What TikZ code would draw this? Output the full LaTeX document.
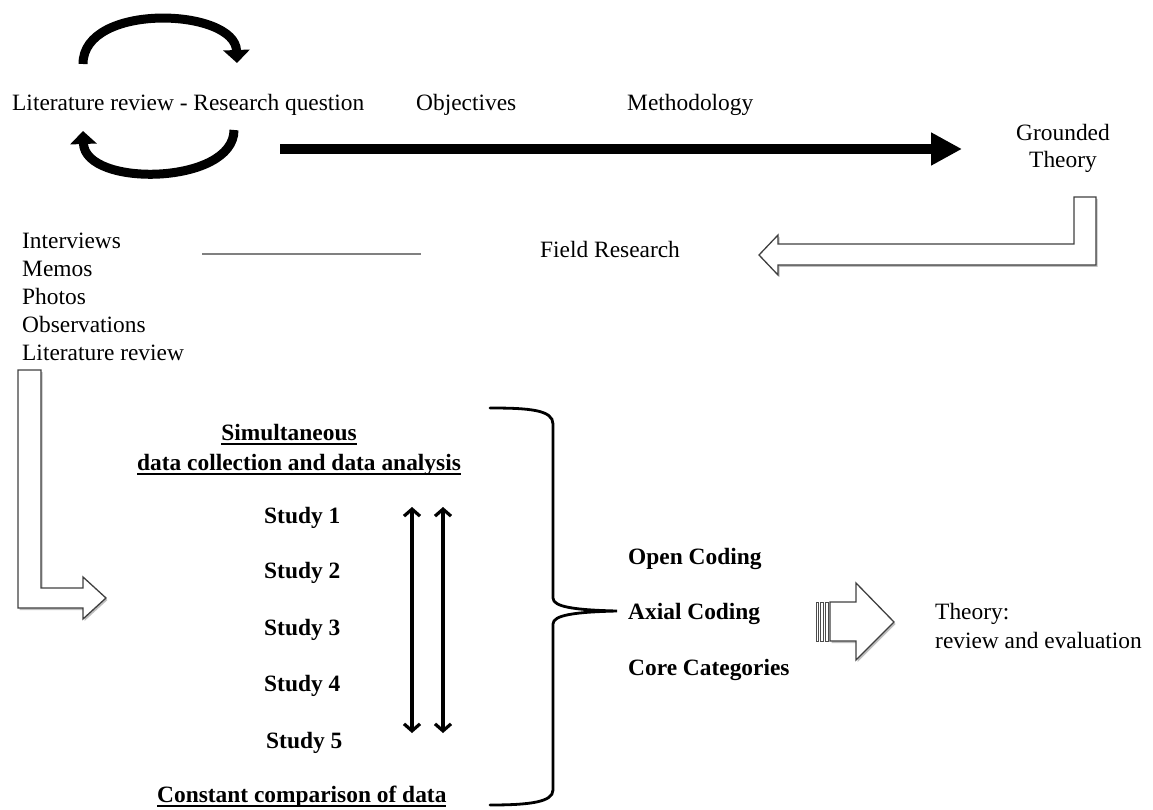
\documentclass[tikz,border=0pt]{standalone}
\usepackage{fontspec}
\setmainfont{Liberation Serif}
\usetikzlibrary{arrows.meta,shadows}
% underline set close to the baseline
\newcommand{\baseul}[1]{\setbox0\hbox{#1}\rlap{\rule[-4.6pt]{\wd0}{1.6pt}}\box0}
\begin{document}
\begin{tikzpicture}[x=1pt,y=-1pt,
  txt/.style={inner sep=0pt, font=\fontsize{23.4}{27.8}\selectfont},
  btxt/.style={inner sep=0pt, font=\fontsize{23.4}{27.8}\selectfont\bfseries},
  blockarrow/.style={draw=black!75, line width=1.3pt, fill=white, line join=miter,
    drop shadow={shadow xshift=1.5pt, shadow yshift=-2pt, opacity=0.25, fill=black}},
  cyclearrow/.style={line width=9pt, -{Triangle[length=13pt,width=26pt]}},
  barb/.tip={Straight Barb[length=7pt,width=16pt,line width=3.2pt]},
]
\useasboundingbox (0,0) rectangle (1153,810);

% --- top row ---
\node[txt, anchor=base west] (lit)  at (12,111)  {Literature review - Research question};
\node[txt, anchor=base west] (obj)  at (416,111) {Objectives};
\node[txt, anchor=base west] (meth) at (627,111) {Methodology};
\node[txt, anchor=base] (gt1) at (1063,141) {Grounded};
\node[txt, anchor=base] (gt2) at (1063,168) {Theory};

% loop between literature review and research question
\coordinate (loopTL) at (83,64);
\coordinate (loopTR) at (237,63);
\coordinate (loopBR) at (234,130);
\coordinate (loopBL) at (83,131);
\draw[cyclearrow] (loopTL) .. controls (83,2) and (235,8) .. (loopTR);
\draw[cyclearrow] (loopBR) .. controls (234,185) and (85,188) .. (loopBL);

% main arrow towards grounded theory
\coordinate (mainA) at (280,149);
\coordinate (mainB) at (962,149);
\draw[line width=10pt, -{Triangle[length=31pt,width=31pt]}] (mainA) -- (mainB);

% --- field research ---
\draw[blockarrow] (1074,197) -- (1096,197) -- (1096,265) -- (778,265) -- (778,275)
  -- (759,255) -- (778,235) -- (778,244) -- (1074,244) -- cycle;
\node[txt, anchor=base west] (field) at (540,258) {Field Research};

\node[txt, anchor=base west] (l1) at (22,249) {Interviews};
\node[txt, anchor=base west] (l2) at (22,276.8) {Memos};
\node[txt, anchor=base west] (l3) at (22,304.6) {Photos};
\node[txt, anchor=base west] (l4) at (22,332.4) {Observations};
\node[txt, anchor=base west] (l5) at (22,360.2) {Literature review};

\coordinate (sepA) at (202,254);
\coordinate (sepB) at (421,254);
\draw[line width=1.6pt, draw=black!50] (sepA) -- (sepB);

% --- down into data collection ---
\draw[blockarrow] (18,370) -- (41,370) -- (41,588) -- (83,588) -- (83,577)
  -- (106,598) -- (83,619) -- (83,608) -- (18,608) -- cycle;

\node[btxt, anchor=base] (sim1) at (289,440) {\baseul{Simultaneous}};
\node[btxt, anchor=base] (sim2) at (299,470) {\baseul{data collection and data analysis}};

\node[btxt, anchor=base west] (s1) at (264,523) {Study 1};
\node[btxt, anchor=base west] (s2) at (264,578) {Study 2};
\node[btxt, anchor=base west] (s3) at (264,635) {Study 3};
\node[btxt, anchor=base west] (s4) at (264,691) {Study 4};
\node[btxt, anchor=base west] (s5) at (266,748) {Study 5};

\node[btxt, anchor=base west] (const) at (157,802) {\baseul{Constant comparison of data}};

% two-way arrows between the studies
\coordinate (arA1) at (412,507);
\coordinate (arA2) at (412,733);
\coordinate (arB1) at (443,507);
\coordinate (arB2) at (443,733);
\draw[line width=3.2pt, barb-barb] (arA1) -- (arA2);
\draw[line width=3.2pt, barb-barb] (arB1) -- (arB2);

% brace gathering the studies
\coordinate (brTop) at (490,408);
\coordinate (brTip) at (617,611);
\coordinate (brBot) at (490,805);
\draw[line width=2.8pt, line cap=round]
  (brTop) .. controls (530,408) and (553,410) .. (553,424)
  -- (553,598) .. controls (553,607) and (575,610) .. (brTip)
  .. controls (575,612) and (553,615) .. (553,624)
  -- (553,790) .. controls (553,802) and (530,805) .. (brBot);

% --- coding stages ---
\node[btxt, anchor=base west] (open) at (628,564) {Open Coding};
\node[btxt, anchor=base west] (axial) at (628,619) {Axial Coding};
\node[btxt, anchor=base west] (core) at (628,675) {Core Categories};

\draw[blockarrow] (830,602) -- (856,602) -- (856,583) -- (894,622) -- (856,660)
  -- (856,641) -- (830,641) -- cycle;
\foreach \a/\b in {816/818, 820.5/823, 825/828}
  \draw[draw=black!70, fill=white, line width=0.9pt] (\a,602) rectangle (\b,641);

\node[txt, anchor=base west] (th1) at (935,619) {Theory:};
\node[txt, anchor=base west] (th2) at (935,648) {review and evaluation};
\end{tikzpicture}
\end{document}
